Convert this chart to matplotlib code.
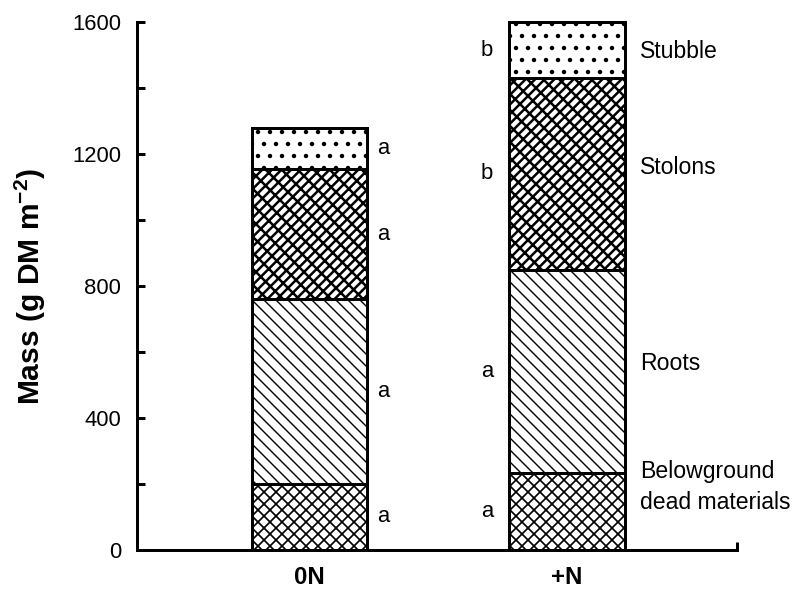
import matplotlib
matplotlib.use("Agg")
import matplotlib.pyplot as plt
from matplotlib.ticker import MultipleLocator, FixedLocator

# data
treatments = ["0N", "+N"]
components = ["Belowground\ndead materials", "Roots", "Stolons", "Stubble"]
dead = [200, 232]
roots = [560, 618]
stolons = [395, 580]
stubble = [125, 170]
letters_0n = ["a", "a", "a", "a"]
letters_pn = ["a", "a", "b", "b"]
label_y = [190, 565, 1160, 1510]

hatches = ["xxxx", "\\" * 4, "/" * 5 + "\\" * 3, ".."]
hatch_lw = [0.85, 0.7, 1.25, 1.0]

DPI = 144
plt.rcParams["font.family"] = ["Liberation Sans", "DejaVu Sans"]
plt.rcParams["mathtext.fontset"] = "custom"
plt.rcParams["mathtext.rm"] = "Liberation Sans"
plt.rcParams["mathtext.default"] = "regular"
plt.rcParams["hatch.color"] = "black"
plt.rcParams["hatch.linewidth"] = 0.7

fig = plt.figure(figsize=(806 / DPI, 592 / DPI), dpi=DPI)
ax = fig.add_axes([137 / 806, 42 / 592, 600 / 806, 528 / 592])

x = [1, 2]
width = 0.446
series = [dead, roots, stolons, stubble]
bottoms = [0, 0]
mids = []
for vals, h, hlw in zip(series, hatches, hatch_lw):
    bars = ax.bar(x, vals, width, bottom=bottoms, color="white", edgecolor="black",
                  linewidth=1.5, hatch=h, clip_on=False, zorder=3)
    for p in bars:
        if hasattr(p, "set_hatch_linewidth"):
            p.set_hatch_linewidth(hlw)
    mids.append([b + v / 2 for b, v in zip(bottoms, vals)])
    bottoms = [b + v for b, v in zip(bottoms, vals)]

# significance letters
for i, m in enumerate(mids):
    ax.text(1.287, m[0], letters_0n[i], ha="center", va="center", fontsize=11)
    ax.text(1.69, m[1], letters_pn[i], ha="center", va="center", fontsize=11)

# component labels beside the +N bar
for name, yy in zip(components, label_y):
    ax.text(2.283, yy, name, ha="left", va="center", fontsize=11.5, linespacing=1.45)

ax.set_xlim(0.333, 2.659)
ax.set_ylim(0, 1600)

ax.spines["top"].set_visible(False)
ax.spines["right"].set_visible(False)
ax.spines["left"].set_linewidth(1.5)
ax.spines["bottom"].set_linewidth(1.5)

ax.yaxis.set_major_locator(MultipleLocator(400))
ax.yaxis.set_minor_locator(MultipleLocator(200))
ax.tick_params(axis="y", which="both", direction="in", length=4, width=1.5,
               labelsize=11, pad=8)

ax.set_xticks(x)
ax.set_xticklabels(treatments, fontsize=12, fontweight="bold")
ax.xaxis.set_minor_locator(FixedLocator([2.659]))
ax.tick_params(axis="x", which="major", length=0, pad=8)
ax.tick_params(axis="x", which="minor", direction="in", length=4, width=1.5)

ax.set_ylabel(r"Mass (g DM m$^{-2}$)", fontsize=15, fontweight="bold", labelpad=12)

fig.savefig("out.png", dpi=DPI)
